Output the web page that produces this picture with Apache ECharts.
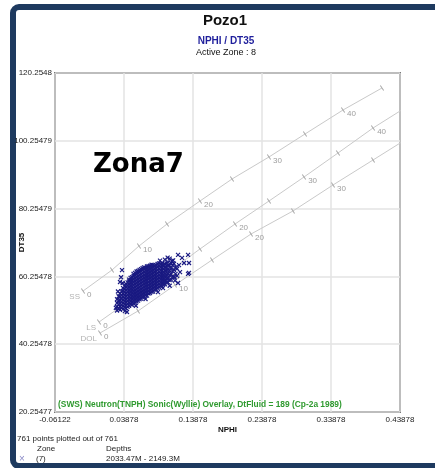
<!DOCTYPE html>
<html><head><meta charset="utf-8">
<script src="https://cdn.jsdelivr.net/npm/echarts@6/dist/echarts.min.js"></script>
<style>html,body{margin:0;padding:0;background:#fff}#c{width:435px;height:468px}</style>
</head><body><div id="c"></div>
<script>
// ---- tick labels ----
const xTickLabels = ['-0.06122','0.03878','0.13878','0.23878','0.33878','0.43878'];
const yTickLabels = ['20.25477','40.25478','60.25478','80.25479','100.25479','120.2548'];
const X0 = -0.06122, Y0 = 20.25477;

// ---- overlay lithology lines: [NPHI, DT] at porosity ticks ----
const porSS  = [0,5,10,15,20,25,30,35,40,45];
const lineSS = [[-0.0206,55.94],[0.0214,62.14],[0.0605,69.22],[0.1011,75.71],[0.1489,82.49],[0.1953,88.98],[0.2489,95.48],[0.3011,102.26],[0.3562,109.34],[0.4127,115.83]];
const porLS  = [0,5,10,15,20,25,30,35,40,45];
const lineLS = [[0.0026,46.80],[0.0518,53.88],[0.1011,61.25],[0.1489,68.34],[0.1997,75.71],[0.2489,82.49],[0.2997,89.58],[0.3489,96.65],[0.3997,104.03],[0.4504,110.52]];
const porDOL  = [0,5,10,15,20,25,30,35,40];
const lineDOL = [[0.0040,43.55],[0.0591,50.05],[0.1127,57.72],[0.1663,65.09],[0.2229,72.76],[0.2837,79.55],[0.3417,87.22],[0.3997,94.59],[0.4576,101.97]];

// ---- zone 7 points (NPHI column, DT values) ----
const cloudColumns = [
 [0.0287,[50.2,51.3,52.4,53.5]],
 [0.0310,[50.8,52.0,53.1,54.4]],
 [0.0330,[50.4,51.4,52.3,53.2,54.1,55.2]],
 [0.0352,[51.0,51.9,52.8,53.8,54.8,55.9]],
 [0.0374,[50.6,51.5,52.4,53.3,54.2,55.1,56.0,56.8]],
 [0.0395,[51.1,52.0,52.9,53.8,54.7,55.6,56.5,57.4]],
 [0.0417,[50.9,51.8,52.7,53.6,54.5,55.4,56.3,57.2,58.0]],
 [0.0440,[51.3,52.2,53.1,54.0,54.9,55.8,56.7,57.6,58.5]],
 [0.0461,[51.6,52.5,53.4,54.3,55.2,56.1,57.0,57.9,58.8,59.3]],
 [0.0483,[52.0,52.9,53.8,54.7,55.6,56.5,57.4,58.3,59.2,59.8]],
 [0.0504,[51.9,52.8,53.7,54.6,55.5,56.4,57.3,58.2,59.1,60.0]],
 [0.0526,[52.3,53.2,54.1,55.0,55.9,56.8,57.7,58.6,59.5,60.4,61.0]],
 [0.0548,[52.5,53.4,54.3,55.2,56.1,57.0,57.9,58.8,59.7,60.6,61.3]],
 [0.0570,[52.9,53.8,54.7,55.6,56.5,57.4,58.3,59.2,60.1,61.0,61.7]],
 [0.0591,[53.1,54.0,54.9,55.8,56.7,57.6,58.5,59.4,60.3,61.2,61.9]],
 [0.0613,[53.5,54.4,55.3,56.2,57.1,58.0,58.9,59.8,60.7,61.6,62.2]],
 [0.0635,[53.7,54.6,55.5,56.4,57.3,58.2,59.1,60.0,60.9,61.8,62.4]],
 [0.0657,[54.1,55.0,55.9,56.8,57.7,58.6,59.5,60.4,61.3,62.2,62.7]],
 [0.0678,[54.3,55.2,56.1,57.0,57.9,58.8,59.7,60.6,61.5,62.4,62.9]],
 [0.0700,[54.7,55.6,56.5,57.4,58.3,59.2,60.1,61.0,61.9,62.8]],
 [0.0722,[54.6,55.5,56.4,57.3,58.2,59.1,60.0,60.9,61.8,62.7,63.2]],
 [0.0743,[55.2,56.1,57.0,57.9,58.8,59.7,60.6,61.5,62.4,63.3]],
 [0.0765,[55.3,56.2,57.1,58.0,58.9,59.8,60.7,61.6,62.5,63.4]],
 [0.0787,[55.7,56.6,57.5,58.4,59.3,60.2,61.1,62.0,62.9,63.7]],
 [0.0809,[55.8,56.7,57.6,58.5,59.4,60.3,61.2,62.1,63.0,63.6]],
 [0.0830,[56.3,57.2,58.1,59.0,59.9,60.8,61.7,62.6,63.5]],
 [0.0852,[56.4,57.3,58.2,59.1,60.0,60.9,61.8,62.7,63.6]],
 [0.0874,[56.8,57.7,58.6,59.5,60.4,61.3,62.2,63.1,63.9]],
 [0.0896,[57.0,57.9,58.8,59.7,60.6,61.5,62.4,63.3,64.1]],
 [0.0917,[57.5,58.4,59.3,60.2,61.1,62.0,62.9,63.8]],
 [0.0939,[57.3,58.2,59.1,60.0,60.9,61.8,62.7,63.6,64.2]],
 [0.0961,[58.0,58.9,59.8,60.7,61.6,62.5,63.4]],
 [0.0983,[57.9,58.9,59.9,60.9,61.9,62.9,63.9]],
 [0.1005,[58.6,59.7,60.8,61.9,63.0,64.1]],
 [0.1026,[58.5,59.7,61.0,62.3,63.5,64.4]],
 [0.1048,[59.2,60.6,62.0,63.4]],
 [0.1070,[59.3,60.9,62.6,64.2]],
 [0.1091,[60.1,61.8,63.5]],
 [0.1113,[60.0,62.1,64.0]],
 [0.1135,[61.0,63.0]],
 [0.1157,[60.4,62.5]]
];
const cloudFringe = [[0.0359,62.1],[0.0330,58.6],[0.0368,58.3],[0.0345,60.0],[0.0270,51.0],[0.0300,55.8],
 [0.0431,49.75],[0.0400,50.0],[0.1171,66.6],[0.1316,66.6],[0.1258,64.2],[0.1330,64.2],[0.1330,61.3],
 [0.1229,65.7],[0.1084,64.8],[0.0953,56.8],[0.1171,58.3],[0.1316,61.0],[0.1185,63.6],[0.1127,59.0],
 [0.1200,61.5],[0.1050,57.5],[0.0880,55.6],[0.0700,53.6],[0.0560,51.6],[0.0910,64.9],[0.0980,65.2],
 [0.1050,65.5],[0.1100,65.0],[0.1020,65.8]];

const FONT = 'Liberation Sans';
const toXY = p => [p[0] - X0, p[1] - Y0];
const cloud = [];
cloudColumns.forEach(c => c[1].forEach(dt => cloud.push(toXY([c[0], dt]))));
cloudFringe.forEach(p => cloud.push(toXY(p)));

function lithoSeries(name, pts, por, rot) {
  return {
    type: 'line', name: name,
    data: pts.map((p, i) => ({ value: toXY(p), label: { show: por[i] % 10 === 0 && por[i] <= 40, formatter: String(por[i]) } })),
    symbol: 'rect', symbolSize: [1, 6], symbolRotate: rot, showSymbol: true,
    lineStyle: { color: '#c9c9c9', width: 1 }, itemStyle: { color: '#a8a8a8' },
    label: { position: 'right', distance: 2, offset: [0, 4], color: '#9d9d9d', fontSize: 8, fontFamily: FONT },
    clip: true, silent: true, z: 2, emphasis: { disabled: true }, animation: false
  };
}

const chart = echarts.init(document.getElementById('c'));
chart.setOption({
  animation: false,
  backgroundColor: '#fff',
  grid: { left: 55, top: 73, width: 345, height: 339, outerBoundsMode: 'none', containLabel: false, show: true, borderColor: '#111', borderWidth: 1.5, backgroundColor: 'transparent' },
  xAxis: {
    type: 'value', min: 0, max: 0.5, interval: 0.1,
    axisLine: { show: false }, axisTick: { show: false },
    splitLine: { show: true, lineStyle: { color: '#e3e3e3', width: 1.5 } },
    axisLabel: { formatter: v => xTickLabels[Math.round(v / 0.1)], color: '#222', fontSize: 8, margin: 4, fontFamily: FONT },
    name: 'NPHI', nameLocation: 'middle', nameGap: 14, nameMoveOverlap: false,
    nameTextStyle: { fontWeight: 'bold', fontSize: 8, color: '#111', fontFamily: FONT }
  },
  yAxis: {
    type: 'value', min: 0, max: 100, interval: 20,
    axisLine: { show: false }, axisTick: { show: false },
    splitLine: { show: true, lineStyle: { color: '#e3e3e3', width: 1.5 } },
    axisLabel: { formatter: v => yTickLabels[Math.round(v / 20)], color: '#222', fontSize: 8, margin: 3, fontFamily: FONT },
    name: 'DT35', nameLocation: 'middle', nameGap: 29, nameRotate: 90, nameMoveOverlap: false,
    nameTextStyle: { fontWeight: 'bold', fontSize: 8, color: '#111', fontFamily: FONT }
  },
  series: [
    lithoSeries('SS', lineSS, porSS, 34),
    lithoSeries('LS', lineLS, porLS, 35),
    lithoSeries('DOL', lineDOL, porDOL, 32),
    {
      type: 'scatter', silent: true, z: 3, symbolSize: 0,
      data: [{ value: toXY(lineSS[0]), name: 'SS' }, { value: toXY(lineLS[0]), name: 'LS' }, { value: toXY(lineDOL[0]), name: 'DOL' }],
      label: { show: true, position: 'left', formatter: '{b}', distance: 3, offset: [0, 6], color: '#9d9d9d', fontSize: 8, fontFamily: FONT }
    },
    {
      type: 'scatter', silent: true, z: 5, data: cloud,
      symbol: 'path://M0,0L10,10M10,0L0,10', symbolSize: 4,
      itemStyle: { color: 'rgba(0,0,0,0)', borderColor: '#1a1a82', borderWidth: 1.2, opacity: 1 }
    }
  ],
  graphic: [
    { type: 'rect', z: 0, shape: { x: 13, y: 7, width: 460, height: 459, r: 6 }, style: { fill: 'none', stroke: '#1e3a5f', lineWidth: 6 } },
    { type: 'text', x: 225, y: 21, style: { text: 'Pozo1', font: 'bold 15px "Liberation Sans"', fill: '#111', textAlign: 'center', textVerticalAlign: 'middle' } },
    { type: 'text', x: 226, y: 41, style: { text: 'NPHI / DT35', font: 'bold 10px "Liberation Sans"', fill: '#1f1f9c', textAlign: 'center', textVerticalAlign: 'middle' } },
    { type: 'text', x: 226, y: 53, style: { text: 'Active Zone : 8', font: '9px "Liberation Sans"', fill: '#111', textAlign: 'center', textVerticalAlign: 'middle' } },
    { type: 'text', x: 93, y: 165, z: 10, style: { text: 'Zona7', font: 'bold 26px "DejaVu Sans"', fill: '#000', textAlign: 'left', textVerticalAlign: 'middle' } },
    { type: 'text', x: 58, y: 405, z: 10, style: { text: '(SWS) Neutron(TNPH) Sonic(Wyllie) Overlay, DtFluid = 189 (Cp-2a 1989)', font: 'bold 8.4px "Liberation Sans"', fill: '#2f9a2f', textAlign: 'left', textVerticalAlign: 'middle' } },
    { type: 'text', x: 17, y: 439, style: { text: '761 points plotted out of 761', font: '8px "Liberation Sans"', fill: '#222', textAlign: 'left', textVerticalAlign: 'middle' } },
    { type: 'text', x: 37, y: 449, style: { text: 'Zone', font: '8px "Liberation Sans"', fill: '#222', textAlign: 'left', textVerticalAlign: 'middle' } },
    { type: 'text', x: 106, y: 449, style: { text: 'Depths', font: '8px "Liberation Sans"', fill: '#222', textAlign: 'left', textVerticalAlign: 'middle' } },
    { type: 'text', x: 22, y: 459, style: { text: '×', font: '10px "Liberation Sans"', fill: '#8c8cc8', textAlign: 'center', textVerticalAlign: 'middle' } },
    { type: 'text', x: 36, y: 459, style: { text: '(7)', font: '8px "Liberation Sans"', fill: '#222', textAlign: 'left', textVerticalAlign: 'middle' } },
    { type: 'text', x: 106, y: 459, style: { text: '2033.47M - 2149.3M', font: '8px "Liberation Sans"', fill: '#222', textAlign: 'left', textVerticalAlign: 'middle' } }
  ]
});
</script>
</body></html>
